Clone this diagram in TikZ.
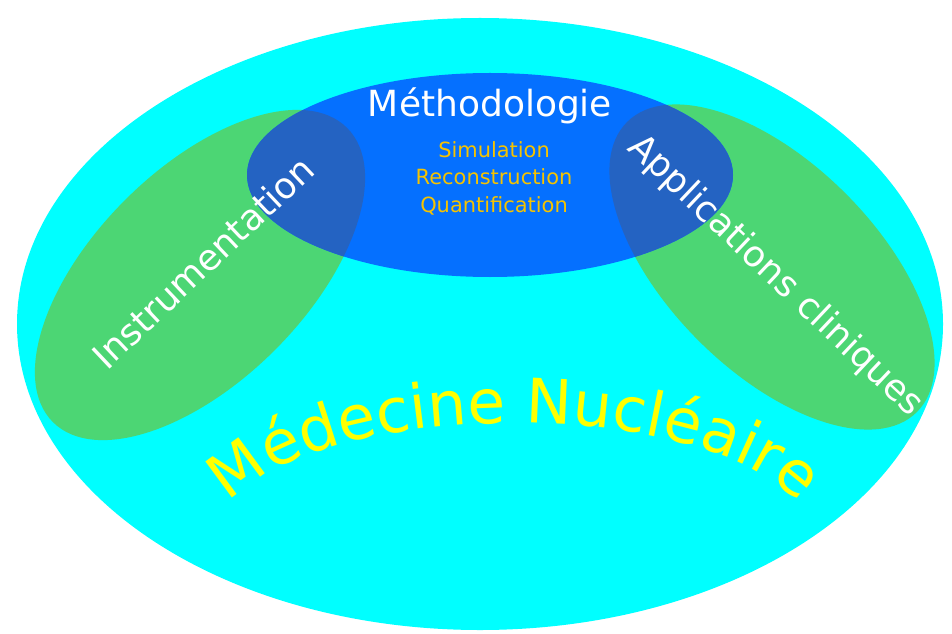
\documentclass[tikz,border=0pt]{standalone}
\usepackage{fontspec}
\setmainfont{DejaVu Sans}
\usetikzlibrary{decorations.text,calc}

\definecolor{medcyan}{RGB}{0,255,255}
\definecolor{methblue}{RGB}{5,112,255}
\definecolor{overlapblue}{RGB}{36,99,194}
\definecolor{fieldgreen}{RGB}{76,214,116}
\definecolor{subgold}{RGB}{245,195,0}
\definecolor{titleyellow}{RGB}{255,255,0}

\newcommand{\bigfont}{\fontsize{27}{32}\selectfont}
\newcommand{\smallfont}{\fontsize{15.7}{20.6}\selectfont}
\newcommand{\titlefont}{\fontsize{46}{54}\selectfont\color{titleyellow}}

\begin{document}
\begin{tikzpicture}[x=0.75pt,y=0.75pt]
          \useasboundingbox (0,0) rectangle (952,633);
          % Medecine nucleaire
          \fill[medcyan] (480,309) ellipse [x radius=463, y radius=306];
          % Instrumentation and applications
          \fill[fieldgreen, shift={(200,358)}, rotate=45] (0,0) ellipse [x radius=208, y radius=106];
          \fill[fieldgreen, shift={(772,366)}, rotate=-45] (0,0) ellipse [x radius=205, y radius=104];
          % Methodologie
          \fill[methblue] (490,458) ellipse [x radius=243, y radius=102];
          % Overlaps with Methodologie
          \begin{scope}
            \clip (490,458) ellipse [x radius=243, y radius=102];
            \fill[overlapblue, shift={(200,358)}, rotate=45] (0,0) ellipse [x radius=208, y radius=106];
            \fill[overlapblue, shift={(772,366)}, rotate=-45] (0,0) ellipse [x radius=205, y radius=104];
          \end{scope}
          % Labels
          \node[white, inner sep=0, font=\bigfont] (meth) at (490,527) {Méthodologie};
          \node[subgold, inner sep=0, align=center, font=\smallfont] (methsub) at (494,455)
            {Simulation\\ Reconstruction\\ Quantification};
          \node[white, inner sep=0, font=\bigfont, rotate=43.4] (inst) at (203,371) {Instrumentation};
          \node[white, inner sep=0, font=\bigfont, rotate=-43.4] (appl) at (775,357) {Applications cliniques};
          % Title on a curve
          \coordinate (arcstart) at (226,126);
          \coordinate (arcend) at (802,126);
          \path[decorate, decoration={text along path, text align=center,
              text={|\titlefont|Médecine Nucléaire}}]
            ($(arcstart)+(-20,-24)$) -- (arcstart)
            .. controls (320,238) and (708,238) .. (arcend) -- ($(arcend)+(20,-24)$);
        \end{tikzpicture}
\end{document}
